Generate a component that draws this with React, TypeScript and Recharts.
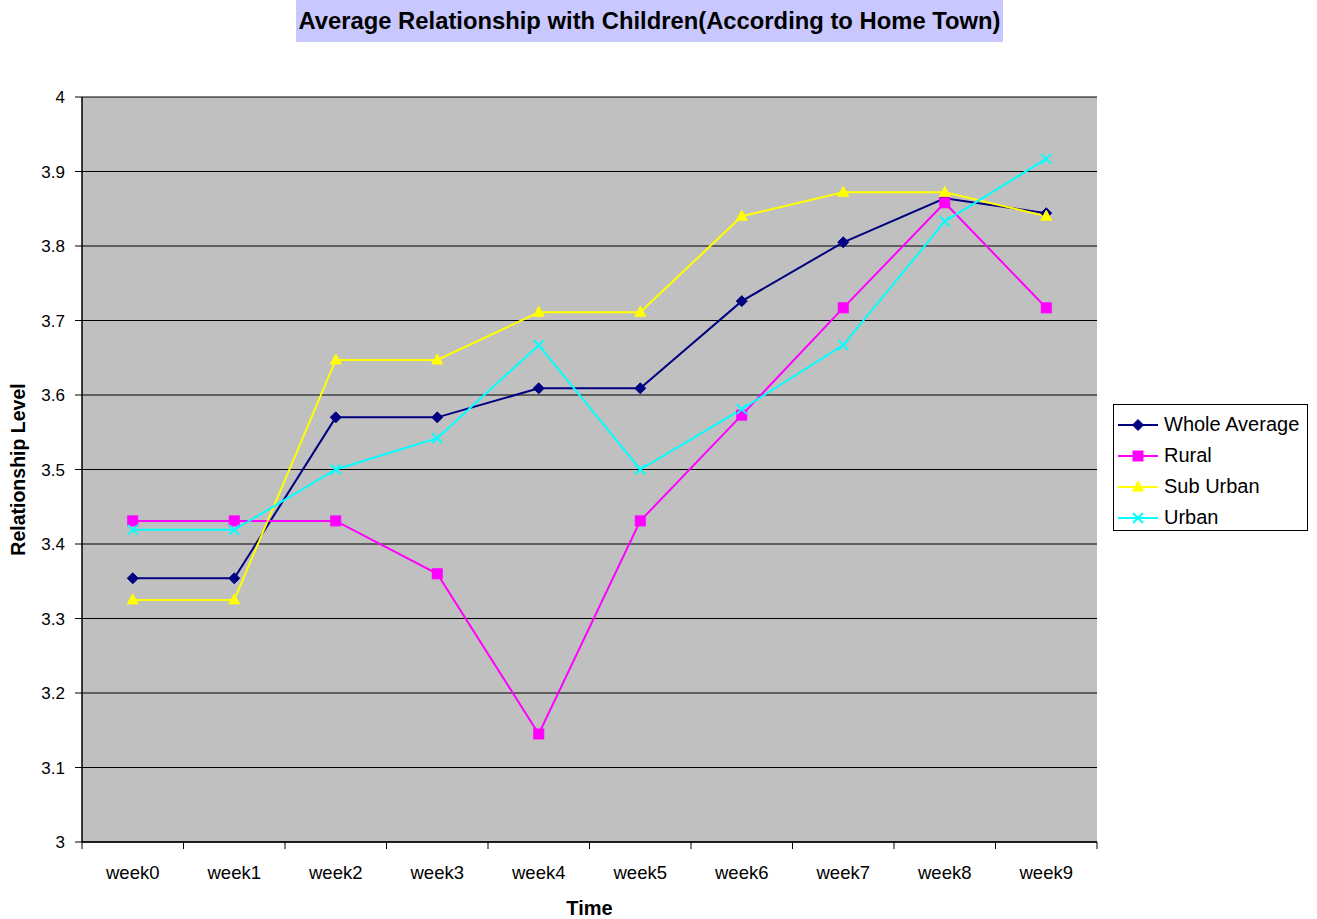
import React from "react";
import { LineChart, Line, XAxis, YAxis, CartesianGrid, Label } from "recharts";

const weeks = ["week0", "week1", "week2", "week3", "week4", "week5", "week6", "week7", "week8", "week9"];
const wholeAverage = [3.354, 3.354, 3.570, 3.570, 3.609, 3.609, 3.726, 3.805, 3.864, 3.844];
const rural = [3.431, 3.431, 3.431, 3.360, 3.145, 3.431, 3.573, 3.717, 3.858, 3.717];
const subUrban = [3.325, 3.325, 3.647, 3.647, 3.711, 3.711, 3.840, 3.872, 3.872, 3.840];
const urban = [3.419, 3.419, 3.500, 3.542, 3.667, 3.500, 3.581, 3.667, 3.833, 3.917];
const yTicks = [3, 3.1, 3.2, 3.3, 3.4, 3.5, 3.6, 3.7, 3.8, 3.9, 4];

const seriesNames = ["Whole Average", "Rural", "Sub Urban", "Urban"];
const seriesColors = ["#000080", "#ff00ff", "#ffff00", "#00ffff"];
const seriesShapes = ["diamond", "square", "triangle", "cross"];

const data = weeks.map((w, i) => ({
  week: w,
  whole: wholeAverage[i],
  rural: rural[i],
  sub: subUrban[i],
  urban: urban[i],
}));

const FONT = "'Liberation Sans', Arial, sans-serif";
const W = 1317;
const H = 919;
const M = { top: 97, right: 220, left: 10, bottom: 30 };
const YAXIS_W = 72;
const XAXIS_H = 47;
const PLOT_W = W - M.left - M.right - YAXIS_W;
const BW = PLOT_W / weeks.length;

function Marker({ shape, color, cx, cy }: { shape: string; color: string; cx: number; cy: number }) {
  if (cx == null || cy == null) return null;
  if (shape === "diamond") {
    const r = 5.5;
    return <polygon points={`${cx},${cy - r} ${cx + r},${cy} ${cx},${cy + r} ${cx - r},${cy}`} fill={color} stroke={color} />;
  }
  if (shape === "square") {
    return <rect x={cx - 5} y={cy - 5} width={10} height={10} fill={color} stroke={color} />;
  }
  if (shape === "triangle") {
    return <polygon points={`${cx},${cy - 6} ${cx + 5.5},${cy + 4} ${cx - 5.5},${cy + 4}`} fill={color} stroke={color} />;
  }
  return (
    <g stroke={color} strokeWidth={2}>
      <line x1={cx - 5} y1={cy - 5} x2={cx + 5} y2={cy + 5} />
      <line x1={cx - 5} y1={cy + 5} x2={cx + 5} y2={cy - 5} />
    </g>
  );
}

const makeDot = (idx: number) => (props: any) => (
  <Marker key={`d${idx}-${props.index}`} shape={seriesShapes[idx]} color={seriesColors[idx]} cx={props.cx} cy={props.cy} />
);

function XTick(props: any) {
  const { x, y, payload, index } = props;
  const left = x - BW / 2;
  return (
    <g>
      <line x1={left} y1={y - 8} x2={left} y2={y - 1} stroke="#000" strokeWidth={1} />
      {index === weeks.length - 1 && (
        <line x1={x + BW / 2} y1={y - 8} x2={x + BW / 2} y2={y - 1} stroke="#000" strokeWidth={1} />
      )}
      <text x={x} y={y + 29} textAnchor="middle" fontFamily={FONT} fontSize={18.5} fill="#000">
        {payload.value}
      </text>
    </g>
  );
}

function LegendBox() {
  return (
    <div
      style={{
        position: "absolute",
        left: 1113,
        top: 404,
        width: 195,
        height: 127,
        border: "1px solid #000",
        background: "#fff",
        boxSizing: "border-box",
        padding: "4px 0 0 4px",
        fontFamily: FONT,
        fontSize: 20,
      }}
    >
      {seriesNames.map((n, i) => (
        <div key={n} style={{ display: "flex", alignItems: "center", height: 31 }}>
          <svg width={44} height={14}>
            <line x1={0} y1={7} x2={40} y2={7} stroke={seriesColors[i]} strokeWidth={2} />
            <Marker shape={seriesShapes[i]} color={seriesColors[i]} cx={20} cy={7} />
          </svg>
          <span style={{ marginLeft: 2 }}>{n}</span>
        </div>
      ))}
    </div>
  );
}

export default function App() {
  return (
    <div style={{ position: "absolute", left: 0, top: 0, width: W, height: H, background: "#fff" }}>
      <div
        style={{
          position: "absolute",
          left: 296,
          top: 0,
          width: 707,
          height: 42,
          background: "#c8c8ff",
          fontFamily: FONT,
          fontWeight: "bold",
          fontSize: 23.8,
          lineHeight: "42px",
          textAlign: "center",
          color: "#000",
          whiteSpace: "nowrap",
        }}
      >
        Average Relationship with Children(According to Home Town)
      </div>
      <div style={{ position: "absolute", left: 0, top: 0 }}>
        <LineChart width={W} height={H} data={data} margin={M}>
          <CartesianGrid vertical={false} horizontal={true} stroke="#000" strokeWidth={1} fill="#c0c0c0" fillOpacity={1} />
          <XAxis
            dataKey="week"
            height={XAXIS_H}
            tick={<XTick />}
            tickLine={false}
            axisLine={{ stroke: "#000", strokeWidth: 1.5 }}
            interval={0}
            padding={{ left: BW / 2, right: BW / 2 }}
          >
            <Label value="Time" position="insideBottom" offset={-26} style={{ fontFamily: FONT, fontWeight: "bold", fontSize: 20, fill: "#000" }} />
          </XAxis>
          <YAxis
            domain={[3, 4]}
            ticks={yTicks}
            width={YAXIS_W}
            interval={0}
            tick={{ fontFamily: FONT, fontSize: 17, fill: "#000" }}
            tickLine={{ stroke: "#000" }}
            tickSize={7}
            tickMargin={10}
            axisLine={{ stroke: "#000", strokeWidth: 1.5 }}
            tickFormatter={(v: number) => String(Math.round(v * 10) / 10)}
          >
            <Label
              value="Relationship Level"
              angle={-90}
              position="insideLeft"
              offset={8}
              style={{ fontFamily: FONT, fontWeight: "bold", fontSize: 19.5, fill: "#000", textAnchor: "middle" }}
            />
          </YAxis>
          <Line dataKey="whole" name="Whole Average" stroke={seriesColors[0]} strokeWidth={2} dot={makeDot(0)} isAnimationActive={false} />
          <Line dataKey="rural" name="Rural" stroke={seriesColors[1]} strokeWidth={2} dot={makeDot(1)} isAnimationActive={false} />
          <Line dataKey="sub" name="Sub Urban" stroke={seriesColors[2]} strokeWidth={2} dot={makeDot(2)} isAnimationActive={false} />
          <Line dataKey="urban" name="Urban" stroke={seriesColors[3]} strokeWidth={2} dot={makeDot(3)} isAnimationActive={false} />
        </LineChart>
      </div>
      <LegendBox />
    </div>
  );
}
